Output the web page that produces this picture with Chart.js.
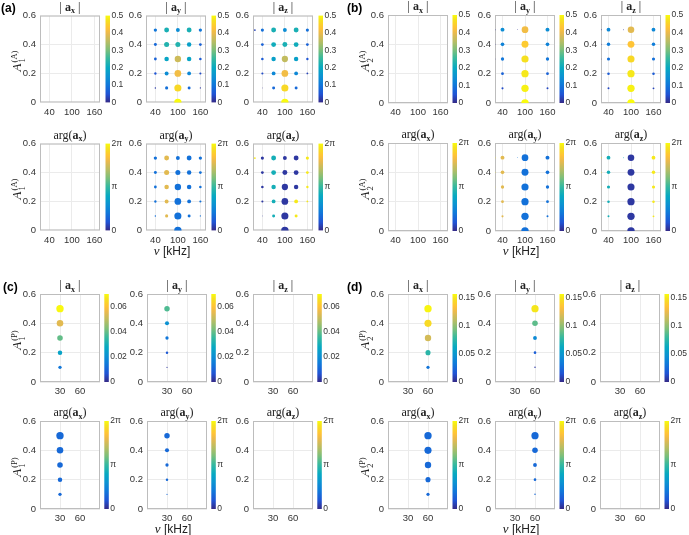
<!DOCTYPE html>
<html>
<head>
<meta charset="utf-8">
<script src="https://cdn.jsdelivr.net/npm/chart.js@4.4.0/dist/chart.umd.min.js"></script>
<style>
body { margin: 0; background: #fff; width: 689px; height: 535px; position: relative; overflow: hidden; }
canvas { position: absolute; }
.plab { position: absolute; font: bold 12px "Liberation Sans", Arial, sans-serif; line-height: 12px; color: #000; }
.ylab { position: absolute; transform: translate(-50%, -50%) rotate(-90deg); font: italic 13px "Liberation Serif", serif; white-space: nowrap; color: #222; }
.ylab .st { display: inline-flex; flex-direction: column; vertical-align: middle; font-style: normal; font-size: 8.5px; line-height: 8.5px; margin-left: 1px; }
.xlab { position: absolute; transform: translate(-50%, -50%); font: 12px "Liberation Sans", Arial, sans-serif; white-space: nowrap; color: #222; }
.xlab i { font-family: "Liberation Serif", serif; font-size: 13px; }
</style>
</head>
<body>
<script>
// grid of the scans
const ampLevels = [0, 0.1, 0.2, 0.3, 0.4, 0.5];
const freqA = [20, 40, 70, 100, 130, 160];
const freqB = [20, 40, 80, 100, 160];
const freqC = [30];
const freqD = [60];

const yTicks = [0, 0.2, 0.4, 0.6];
const xTicksAB = [40, 100, 160];
const xTicksCD = [30, 60];
const cbTicksAB = [0, 0.1, 0.2, 0.3, 0.4, 0.5];
const cbTicksC = [0, 0.02, 0.04, 0.06];
const cbTicksD = [0, 0.05, 0.1, 0.15];
const phaseTicks = [0, Math.PI, 2 * Math.PI];
const phaseTickLabels = ["0", "π", "2π"];

// magnitudes, rows = ampLevels, columns = freq
const magAy = [
    [null, null, null, 0.50, null, null],
    [null, 0.02, 0.09, 0.46, 0.08, 0.015],
    [null, 0.05, 0.14, 0.41, 0.13, 0.04],
    [null, 0.07, 0.19, 0.37, 0.19, 0.06],
    [null, 0.08, 0.23, 0.23, 0.18, 0.07],
    [null, 0.10, 0.22, 0.14, 0.22, 0.10]
];
const magAz = [
    [null, null, null, 0.50, null, null],
    [null, 0.005, 0.08, 0.46, 0.08, null],
    [null, 0.04, 0.13, 0.41, 0.13, 0.03],
    [null, 0.06, 0.18, 0.36, 0.18, 0.05],
    [null, 0.07, 0.21, 0.22, 0.21, 0.07],
    [0.03, 0.09, 0.22, 0.14, 0.22, 0.09]
];
const phaseAy = [
    [null, null, null, 1.15, null, null],
    [null, 1.15, 4.9, 1.15, 1.15, 1.15],
    [null, 1.15, 4.9, 1.15, 1.15, 1.15],
    [null, 1.15, 4.9, 1.15, 1.15, 1.15],
    [null, 1.15, 4.9, 1.15, 1.15, 1.15],
    [null, 1.15, 4.9, 1.15, 1.15, 1.15]
];
const phaseAz = [
    [null, null, null, 0.2, null, null],
    [null, 0.2, 2.7, 0.2, 6.05, null],
    [null, 0.2, 2.7, 0.2, 6.05, 6.05],
    [null, 0.2, 2.7, 0.2, 0.2, 6.05],
    [null, 0.2, 2.7, 0.2, 0.2, 6.05],
    [6.05, 0.2, 2.7, 0.2, 0.2, 6.05]
];

const magBy = [
    [null, null, null, 0.50, null],
    [null, 0.04, null, 0.49, 0.035],
    [null, 0.07, null, 0.48, 0.07],
    [0.006, 0.10, null, 0.47, 0.10],
    [0.008, 0.12, null, 0.44, 0.12],
    [0.01, 0.14, 0.006, 0.41, 0.14]
];
const magBz = [
    [null, null, null, 0.50, null],
    [null, 0.035, null, 0.49, 0.03],
    [null, 0.06, null, 0.48, 0.06],
    [0.008, 0.09, null, 0.46, 0.09],
    [0.01, 0.11, null, 0.43, 0.11],
    [0.012, 0.13, 0.008, 0.39, 0.13]
];
const phaseBy = [
    [null, null, null, 1.15, null],
    [null, 4.9, null, 1.15, 1.15],
    [null, 4.9, null, 1.15, 1.15],
    [5.9, 4.9, null, 1.15, 1.15],
    [5.9, 4.9, null, 1.15, 1.15],
    [5.9, 4.9, 1.15, 1.15, 1.15]
];
const phaseBz = [
    [null, null, null, 0.2, null],
    [null, 2.7, null, 0.2, 6.05],
    [null, 2.7, null, 0.2, 6.05],
    [6.05, 2.7, null, 0.2, 6.05],
    [6.05, 2.7, null, 0.2, 6.05],
    [6.05, 2.7, 2.7, 0.2, 6.05]
];

const magCx = [[null], [0.014], [0.026], [0.04], [0.055], [0.070]];
const magCy = [[null], [0.002], [0.008], [0.014], [0.021], [0.038]];
const phaseCx = [[null], [1.0], [1.0], [1.0], [1.0], [1.0]];
const phaseCy = [[null], [1.0], [1.0], [1.0], [1.0], [1.0]];

const magDx = [[null], [0.03], [0.075], [0.118], [0.145], [0.155]];
const magDy = [[null], [0.006], [0.02], [0.042], [0.088], [0.15]];
const phaseDx = [[null], [1.0], [1.0], [1.0], [1.0], [1.0]];
const phaseDy = [[null], [1.0], [1.0], [1.0], [1.0], [1.0]];

// parula colormap stops
const PARULA = [
    [0.000, 53, 42, 135], [0.095, 32, 83, 212], [0.206, 16, 121, 218],
    [0.302, 12, 147, 210], [0.397, 7, 169, 194], [0.508, 56, 185, 158],
    [0.603, 124, 191, 123], [0.698, 183, 189, 100], [0.794, 233, 185, 78],
    [0.857, 255, 195, 55], [0.905, 250, 211, 42], [0.952, 245, 228, 29],
    [1.000, 249, 251, 14]
];

function parula(t) {
    t = Math.min(1, Math.max(0, t));
    for (let i = 1; i < PARULA.length; i++) {
        const a = PARULA[i - 1], b = PARULA[i];
        if (t <= b[0]) {
            const f = (t - a[0]) / (b[0] - a[0]);
            const c = [1, 2, 3].map(k => Math.round(a[k] + f * (b[k] - a[k])));
            return `rgb(${c[0]},${c[1]},${c[2]})`;
        }
    }
    return "rgb(249,251,14)";
}

const R_MAX = 3.7;
const PL = 30, PT = 16, PR = 42, PB = 16, PW = 60, PH = 88;
const TICK_FONT = { family: '"Liberation Sans", Arial, sans-serif', size: 9.5 };
const CB_FONT = { family: '"Liberation Sans", Arial, sans-serif', size: 8.5 };
const F_N = '12px "Liberation Serif", serif';
const F_B = 'bold 12px "Liberation Serif", serif';
const F_S = 'bold 8px "Liberation Serif", serif';

const boxPlugin = {
    id: "box",
    beforeDatasetsDraw(chart) {
        const a = chart.chartArea, ctx = chart.ctx;
        ctx.save();
        ctx.strokeStyle = "#bdbdbd";
        ctx.lineWidth = 1;
        ctx.strokeRect(a.left + 0.5, a.top + 0.5, a.right - a.left - 1, a.bottom - a.top - 1);
        ctx.restore();
    }
};

function cbPlugin(gap) {
    return {
        id: "cbar",
        afterDraw(chart) {
            const a = chart.chartArea, ctx = chart.ctx;
            const g = ctx.createLinearGradient(0, a.bottom, 0, a.top);
            PARULA.forEach(s => g.addColorStop(s[0], `rgb(${s[1]},${s[2]},${s[3]})`));
            ctx.save();
            ctx.fillStyle = g;
            ctx.fillRect(a.right + gap, a.top, 4.5, a.bottom - a.top);
            ctx.restore();
        }
    };
}

function titlePlugin(kind, comp) {
    return {
        id: "ttl",
        afterDraw(chart) {
            const a = chart.chartArea, ctx = chart.ctx;
            const parts = kind === "mag"
                ? [["| ", F_N, 0], ["a", F_B, 0], [comp, F_S, 2.5], [" |", F_N, 0]]
                : [["arg(", F_N, 0], ["a", F_B, 0], [comp, F_S, 2.5], [")", F_N, 0]];
            ctx.save();
            ctx.fillStyle = "#222";
            ctx.textBaseline = "alphabetic";
            let w = 0;
            parts.forEach(p => { ctx.font = p[1]; w += ctx.measureText(p[0]).width; });
            let x = (a.left + a.right) / 2 - w / 2;
            const y = a.top - 5;
            parts.forEach(p => {
                ctx.font = p[1];
                ctx.fillText(p[0], x, y + p[2]);
                x += ctx.measureText(p[0]).width;
            });
            ctx.restore();
        }
    };
}

function subplot(o) {
    const cv = document.createElement("canvas");
    cv.width = PL + PW + PR;
    cv.height = PT + PH + PB;
    cv.style.left = (o.left - PL) + "px";
    cv.style.top = (o.top - PT) + "px";
    document.body.appendChild(cv);

    const pts = [], cols = [];
    if (o.mag) {
        ampLevels.forEach((amp, i) => {
            o.freqs.forEach((f, j) => {
                const m = o.mag[i][j];
                if (m == null || m <= 0) return;
                pts.push({ x: f, y: amp, r: R_MAX * Math.sqrt(m / o.sMax) });
                cols.push(parula(o.col[i][j] / o.cMax));
            });
        });
    }

    new Chart(cv, {
        type: "bubble",
        data: { datasets: [{ data: pts, backgroundColor: cols, borderWidth: 0, hoverRadius: 0 }] },
        options: {
            responsive: false,
            animation: false,
            events: [],
            layout: { padding: { top: PT, left: 0, right: 0, bottom: 0 } },
            plugins: { legend: { display: false }, tooltip: { enabled: false } },
            scales: {
                x: {
                    type: "linear", min: o.xr[0], max: o.xr[1],
                    afterBuildTicks: s => { s.ticks = o.xt.map(v => ({ value: v })); },
                    afterFit: s => { s.height = PB; },
                    ticks: { font: TICK_FONT, color: "#333", padding: 4, maxRotation: 0 },
                    grid: { color: "#ebebeb", drawTicks: false },
                    border: { display: false }
                },
                y: {
                    type: "linear", position: "left", min: 0, max: 0.6,
                    afterBuildTicks: s => { s.ticks = yTicks.map(v => ({ value: v })); },
                    afterFit: s => { s.width = PL; },
                    ticks: { font: TICK_FONT, color: "#333", padding: 4, callback: v => String(v) },
                    grid: { color: "#ebebeb", drawTicks: false },
                    border: { display: false }
                },
                cb: {
                    type: "linear", position: "right", min: 0, max: o.cMax,
                    afterBuildTicks: s => { s.ticks = o.cTicks.map(v => ({ value: v })); },
                    afterFit: s => { s.width = PR; },
                    ticks: { font: CB_FONT, color: "#333", padding: o.gap + 6, callback: (v, i) => o.cLabels[i] },
                    grid: { display: false, drawTicks: false },
                    border: { display: false }
                }
            }
        },
        plugins: [boxPlugin, cbPlugin(o.gap), titlePlugin(o.kind, o.comp)]
    });
}

function panel(p) {
    const comps = ["x", "y", "z"];
    comps.forEach((c, k) => {
        subplot({
            left: p.lefts[k], top: p.tops[0], xr: p.xr, xt: p.xt, freqs: p.freqs,
            mag: p.mags[k], col: p.mags[k], cMax: p.cMax, sMax: p.cMax,
            cTicks: p.cTicks, cLabels: p.cTicks.map(v => String(v)),
            gap: p.gap, kind: "mag", comp: c
        });
        subplot({
            left: p.lefts[k], top: p.tops[1], xr: p.xr, xt: p.xt, freqs: p.freqs,
            mag: p.mags[k], col: p.phases[k], cMax: 2 * Math.PI, sMax: p.cMax,
            cTicks: phaseTicks, cLabels: phaseTickLabels,
            gap: p.gap, kind: "arg", comp: c
        });
    });

    addDiv("plab", p.label, p.labelPos[0], p.labelPos[1]);
    p.tops.forEach(t => {
        const d = addDiv("ylab", "", p.lefts[0] - 22, t + PH / 2 + 2);
        d.innerHTML = `A<span class="st"><span>(${p.sup})</span><span>${p.sub}</span></span>`;
    });
    const xl = addDiv("xlab", "", p.lefts[1] + PW / 2 - 4, p.tops[1] + PH + 20);
    xl.innerHTML = "<i>ν</i> [kHz]";
}

function addDiv(cls, text, x, y) {
    const d = document.createElement("div");
    d.className = cls;
    d.textContent = text;
    d.style.left = x + "px";
    d.style.top = y + "px";
    document.body.appendChild(d);
    return d;
}

panel({
    label: "(a)", labelPos: [1, 2], lefts: [40, 146, 253], tops: [15, 143], gap: 5.5,
    xr: [15, 175], xt: xTicksAB, freqs: freqA,
    mags: [null, magAy, magAz], phases: [null, phaseAy, phaseAz],
    cMax: 0.5, cTicks: cbTicksAB, sup: "A", sub: "1"
});
panel({
    label: "(b)", labelPos: [347, 2], lefts: [388, 495, 601], tops: [15, 143], gap: 4.5,
    xr: [20, 180], xt: xTicksAB, freqs: freqB,
    mags: [null, magBy, magBz], phases: [null, phaseBy, phaseBz],
    cMax: 0.5, cTicks: cbTicksAB, sup: "A", sub: "2"
});
panel({
    label: "(c)", labelPos: [3, 281], lefts: [40, 147, 253], tops: [294, 421], gap: 4.3,
    xr: [0, 90], xt: xTicksCD, freqs: freqC,
    mags: [magCx, magCy, null], phases: [phaseCx, phaseCy, null],
    cMax: 0.0704, cTicks: cbTicksC, sup: "P", sub: "1"
});
panel({
    label: "(d)", labelPos: [347, 281], lefts: [388, 495, 600], tops: [294, 421], gap: 4.5,
    xr: [0, 90], xt: xTicksCD, freqs: freqD,
    mags: [magDx, magDy, null], phases: [phaseDx, phaseDy, null],
    cMax: 0.157, cTicks: cbTicksD, sup: "P", sub: "2"
});
</script>
</body>
</html>
